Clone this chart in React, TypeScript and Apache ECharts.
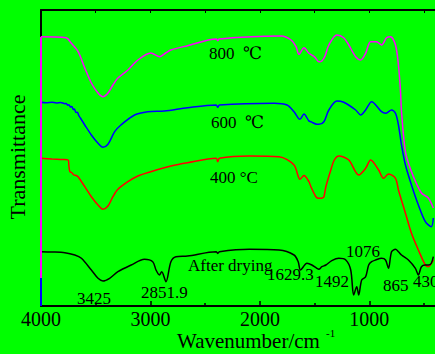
import React, { useEffect, useRef } from 'react';
import * as echarts from 'echarts';

// Wavenumber (cm-1) vs. transmittance (arbitrary offset units)
const curve800: [number, number][] = [
  [4000, 269.3], [3770, 268.3], [3725, 263], [3661, 254.3], [3600, 238], [3540, 223], [3479, 213], [3434, 209.3],
  [3388, 213], [3343, 221], [3297, 228], [3206, 236], [3115, 246], [2997, 253], [2915, 249.3], [2861, 253],
  [2815, 256], [2661, 260.3], [2400, 267], [2385, 265.3], [2370, 267], [2079, 269.3], [1806, 270], [1715, 266],
  [1670, 259.3], [1643, 251.7], [1597, 258.3], [1552, 252.7], [1500, 249], [1461, 244.3], [1434, 245], [1405, 250],
  [1370, 261], [1297, 271], [1234, 268.3], [1188, 261], [1125, 249.3], [1079, 246], [1034, 252.7], [988, 264.3],
  [934, 264.3], [888, 261], [843, 268.3], [806, 269.3], [761, 261], [734, 241], [715, 214.3], [706, 194.3],
  [670, 154.3], [615, 134.3], [524, 113], [461, 108], [415, 98],
];

const curve600: [number, number][] = [
  [4000, 203.7], [3950, 203.2], [3900, 203.8], [3860, 203], [3820, 203.6], [3782, 202.3], [3770, 202.6], [3755, 200.8],
  [3745, 201.3], [3730, 199], [3718, 199.4], [3705, 196.5], [3695, 197], [3680, 193.5], [3668, 193.8], [3655, 190.5],
  [3640, 188], [3600, 181], [3540, 171], [3479, 162.7], [3434, 158.7], [3388, 161.7], [3327, 174.3], [3270, 181],
  [3145, 191], [3025, 194.3], [2873, 195], [2661, 198.3], [2400, 201], [2385, 198.7], [2370, 201], [1870, 202.7],
  [1752, 201], [1688, 194.3], [1634, 186.7], [1597, 192], [1552, 185], [1534, 184.3], [1479, 181.7], [1461, 181.7],
  [1415, 184.3], [1370, 196], [1297, 205], [1234, 203.7], [1125, 196], [1079, 191], [1034, 196], [979, 204.3],
  [888, 194.3], [852, 192.7], [797, 196], [761, 192.7], [734, 181], [706, 161], [670, 141], [615, 121],
  [552, 101], [488, 84.3], [434, 79.3], [415, 88],
];

const curve400: [number, number][] = [
  [4000, 147.7], [3900, 147], [3800, 146.5], [3752, 146], [3745, 140], [3736, 134.3], [3720, 133.5], [3700, 131],
  [3680, 130.5], [3661, 129.3], [3600, 119.3], [3540, 109.3], [3479, 101], [3434, 96.7], [3388, 100], [3343, 109.3],
  [3297, 116.7], [3206, 124.3], [3115, 130], [2997, 134.3], [2813, 140], [2661, 143.3], [2400, 147.7], [2385, 144.3],
  [2370, 147.7], [2097, 150], [1825, 149.3], [1688, 141], [1634, 126.7], [1597, 130.5], [1552, 124.3], [1534, 119.3],
  [1488, 109.3], [1460, 107.7], [1430, 108], [1415, 109.3], [1397, 119.3], [1352, 136], [1320, 146], [1279, 150],
  [1188, 146], [1097, 131], [1034, 137.7], [988, 146], [915, 136], [870, 127.7], [825, 132], [761, 127.7],
  [734, 116], [670, 92.7], [615, 72.7], [552, 56], [488, 41], [461, 39.3], [415, 46],
];

const curveDried: [number, number][] = [
  [4000, 54.3], [3900, 54], [3782, 53.3], [3691, 51], [3631, 47.7], [3540, 36], [3479, 27.7], [3434, 25],
  [3373, 27.7], [3297, 34.3], [3176, 41], [3055, 46.7], [2979, 44.3], [2949, 36], [2918, 31], [2897, 34.3],
  [2858, 24.3], [2813, 44.3], [2767, 49.3], [2661, 50], [2400, 54.3], [2385, 52.5], [2370, 54.3], [2097, 56.7],
  [1825, 56], [1688, 51], [1650, 44.3], [1629, 36], [1570, 42.7], [1525, 41], [1480, 37.7], [1461, 36.7],
  [1434, 39.3], [1397, 41], [1343, 45.3], [1279, 47.7], [1215, 46], [1170, 36], [1143, 11], [1115, 19.3],
  [1097, 11], [1070, 26], [1034, 29.3], [1006, 41], [979, 44.3], [943, 46], [888, 47.7], [852, 46],
  [825, 37.7], [797, 54.3], [761, 56.7], [734, 54.3], [706, 51], [643, 46], [579, 37.7], [552, 31],
  [524, 39.3], [488, 41], [461, 41], [434, 42.7], [415, 49.3],
];

const majorTicks = [1000, 2000, 3000, 4000];
const minorTicks = [500, 1500, 2500, 3500];
const allTicks = [500, 1000, 1500, 2000, 2500, 3000, 3500];

const seriesNames = ['800 ℃', '600 ℃', '400 °C', 'After drying'];
const seriesColors = ['#ff00ff', '#0000ff', '#ff0000', '#000000'];

const serif = '"Liberation Serif", "Times New Roman", "DejaVu Serif", serif';

export default function App() {
  const ref = useRef<HTMLDivElement>(null);
  useEffect(() => {
    document.body.style.margin = '0';
    const chart = echarts.init(ref.current!, null, { renderer: 'svg' });
    const datasets = [curve800, curve600, curve400, curveDried];
    const series: any[] = datasets.map((d, i) => ({
      type: 'line',
      name: seriesNames[i],
      data: d,
      xAxisIndex: 0,
      yAxisIndex: 0,
      showSymbol: false,
      smooth: 0.3,
      lineStyle: { color: seriesColors[i], width: 1.5 },
      z: 3,
    }));
    series[0].markLine = {
      silent: true,
      symbol: ['none', 'none'],
      label: { show: false },
      lineStyle: { color: '#ff00ff', width: 2, type: 'solid' },
      data: [[{ coord: [4000, 269.3] }, { coord: [4000, 28] }]],
    };
    series[1].markLine = {
      silent: true,
      symbol: ['none', 'none'],
      label: { show: false },
      lineStyle: { color: '#0000ff', width: 2, type: 'solid' },
      data: [[{ coord: [4000, 28] }, { coord: [4000, 0] }]],
    };

    const txt = (text: string, x: number, y: number, size: number, extra: any = {}) => ({
      type: 'text',
      x,
      y,
      z: 10,
      style: {
        text,
        fill: '#000',
        font: `${size}px ${serif}`,
        textAlign: 'left',
        textVerticalAlign: 'middle',
      },
      ...extra,
    });

    chart.setOption({
      animation: false,
      backgroundColor: '#00ff00',
      grid: { left: 41, top: 10, right: -2, bottom: 48 },
      xAxis: [
        {
          type: 'value', position: 'bottom', inverse: true, min: 400, max: 4000,
          axisLine: { show: true, onZero: false, lineStyle: { color: '#000', width: 2 } },
          axisTick: { show: true, inside: true, length: 5, customValues: majorTicks, lineStyle: { color: '#000', width: 1.5 } },
          axisLabel: {
            show: true, customValues: majorTicks, color: '#000', fontSize: 20, fontFamily: serif, margin: 3,
            formatter: (v: number) => String(v),
          },
          splitLine: { show: false },
        },
        {
          type: 'value', position: 'bottom', inverse: true, min: 400, max: 4000,
          axisLine: { show: false, onZero: false },
          axisTick: { show: true, inside: true, length: 3, customValues: minorTicks, lineStyle: { color: '#000', width: 1.5 } },
          axisLabel: { show: false },
          splitLine: { show: false },
        },
        {
          type: 'value', position: 'top', inverse: true, min: 400, max: 4000,
          axisLine: { show: true, onZero: false, lineStyle: { color: '#000', width: 2 } },
          axisTick: { show: true, inside: true, length: 3, customValues: allTicks, lineStyle: { color: '#000', width: 1 } },
          axisLabel: { show: false },
          splitLine: { show: false },
        },
      ],
      yAxis: {
        type: 'value', min: 0, max: 296,
        axisLine: { show: true, onZero: false, lineStyle: { color: '#000', width: 2 } },
        axisTick: { show: false },
        axisLabel: { show: false },
        splitLine: { show: false },
      },
      series,
      graphic: [
        txt('800\u00a0\u00a0℃', 209, 53, 17),
        txt('600\u00a0\u00a0℃', 211, 122, 17),
        txt('400 °C', 210, 177, 17),
        txt('After drying', 188, 265, 17),
        txt('3425', 77, 298, 17),
        txt('2851.9', 141, 292, 17),
        txt('1629.3', 267, 274, 17),
        txt('1492', 315, 281, 17),
        txt('1076', 346, 251, 17),
        txt('865', 383, 285, 17),
        txt('430', 413, 281, 17),
        txt('Wavenumber/cm', 177, 341, 21),
        txt('-1', 326, 333, 11),
        {
          type: 'text',
          x: 17,
          y: 157,
          rotation: Math.PI / 2,
          z: 10,
          style: {
            text: 'Transmittance',
            fill: '#000',
            font: `22px ${serif}`,
            textAlign: 'center',
            textVerticalAlign: 'middle',
          },
        },
      ],
    });
    return () => chart.dispose();
  }, []);
  return <div ref={ref} style={{ width: 435, height: 354 }} />;
}
